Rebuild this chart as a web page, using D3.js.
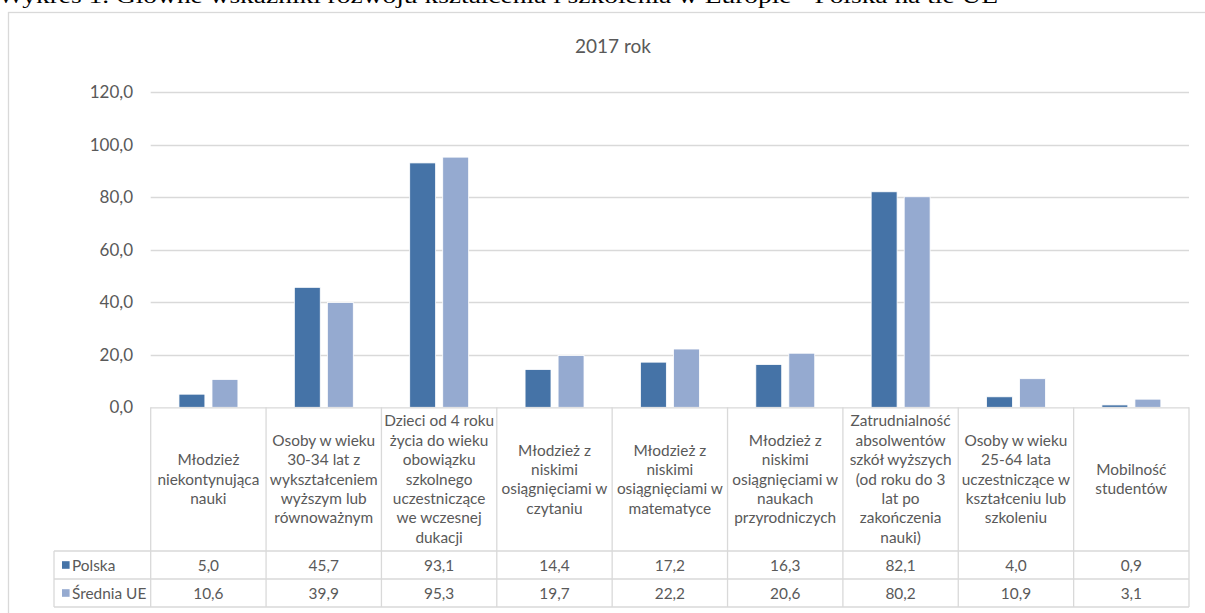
<!DOCTYPE html>
<html><head><meta charset="utf-8">
<script src="https://cdn.jsdelivr.net/npm/d3@7/dist/d3.min.js"></script>
<style>
html,body{margin:0;padding:0;background:#fff;overflow:hidden}
svg{display:block}
</style></head>
<body>
<script>
const pageTitle = "Wykres 1. Główne wskaźniki rozwoju kształcenia i szkolenia w Europie - Polska na tle UE";
const chartTitle = "2017 rok";
const categories = [
  ["Młodzież", "niekontynująca", "nauki"],
  ["Osoby w wieku", "30-34 lat z", "wykształceniem", "wyższym lub", "równoważnym"],
  ["Dzieci od 4 roku", "życia do wieku", "obowiązku", "szkolnego", "uczestniczące", "we wczesnej", "dukacji"],
  ["Młodzież z", "niskimi", "osiągnięciami w", "czytaniu"],
  ["Młodzież z", "niskimi", "osiągnięciami w", "matematyce"],
  ["Młodzież z", "niskimi", "osiągnięciami w", "naukach", "przyrodniczych"],
  ["Zatrudnialność", "absolwentów", "szkół wyższych", "(od roku  do 3", "lat po", "zakończenia", "nauki)"],
  ["Osoby w wieku", "25-64 lata", "uczestniczące  w", "kształceniu lub", "szkoleniu"],
  ["Mobilność", "studentów"]
];
const seriesNames = ["Polska", "Średnia UE"];
const polska = [5.0, 45.7, 93.1, 14.4, 17.2, 16.3, 82.1, 4.0, 0.9];
const sredniaUE = [10.6, 39.9, 95.3, 19.7, 22.2, 20.6, 80.2, 10.9, 3.1];
const yTicks = [0, 20, 40, 60, 80, 100, 120];
const colors = ["#4573A7", "#95AAD0"];

(function () {
const W = 1205, H = 613;
const svg = d3.select("body").append("svg").attr("width", W).attr("height", H);
const FONT = "Lato, 'Liberation Sans', sans-serif";
const grid = "#d9d9d9";
const txt = "#595959";
const tfs = 15.4;

const locale = d3.formatLocale({decimal: ",", thousands: " ", grouping: [3], currency: ["", " zł"]});
const fmt = locale.format(".1f");

// page heading (cut off at top, as in the source)
svg.append("text").attr("x", -2).attr("y", 3)
  .attr("font-family", "'Liberation Serif', serif").attr("font-size", 22)
  .attr("fill", "#000").attr("textLength", 1000).attr("lengthAdjust", "spacingAndGlyphs")
  .text(pageTitle);

// chart frame
svg.append("rect").attr("x", 8.5).attr("y", 12.5).attr("width", 1230).attr("height", 640)
  .attr("fill", "#fff").attr("stroke", grid).attr("stroke-width", 1.3);

const pLeft = 150.7, pRight = 1189, pTop = 92.3, base = 407.3;
const y = d3.scaleLinear().domain([0, 120]).range([base, pTop]);
const idx = categories.map((c, i) => i);
const x = d3.scaleBand().domain(idx).range([pLeft, pRight]).paddingInner(0).paddingOuter(0);
const bw = x.bandwidth();
const xs = d3.scaleBand().domain(seriesNames).range([0.245 * bw, 0.756 * bw]).paddingInner(0.215);

svg.append("text").attr("x", 613).attr("y", 53).attr("text-anchor", "middle")
  .attr("font-family", FONT).attr("font-size", 19).attr("fill", txt).text(chartTitle);

// gridlines
svg.append("g").selectAll("line").data(yTicks.filter(t => t > 0)).join("line")
  .attr("x1", pLeft).attr("x2", pRight).attr("y1", d => Math.round(y(d)) + 0.5).attr("y2", d => Math.round(y(d)) + 0.5)
  .attr("stroke", grid).attr("stroke-width", 1.3);

// y axis labels
const yAxis = d3.axisLeft(y).tickValues(yTicks).tickFormat(fmt).tickSize(0).tickPadding(0);
const ya = svg.append("g").attr("transform", `translate(${133},0)`).call(yAxis);
ya.select(".domain").remove();
ya.selectAll("text").attr("font-family", FONT).attr("font-size", 17).attr("fill", txt);

// bars
const data = [polska, sredniaUE];
data.forEach((vals, si) => {
  svg.append("g").selectAll("rect").data(vals).join("rect")
    .attr("x", (d, i) => x(i) + xs(seriesNames[si]))
    .attr("width", xs.bandwidth())
    .attr("y", d => y(d))
    .attr("height", d => base - y(d))
    .attr("fill", colors[si])
    .attr("stroke", "#fff").attr("stroke-width", 0.8);
});

// data table
const headBottom = 551, row1 = 579, row2 = 607, legLeft = 54;
const tg = svg.append("g").attr("stroke", grid).attr("stroke-width", 1.3).attr("fill", "none");
tg.append("line").attr("x1", pLeft).attr("x2", pRight).attr("y1", base + 0.5).attr("y2", base + 0.5);
[headBottom, row1, row2].forEach(yy => tg.append("line").attr("x1", legLeft).attr("x2", pRight).attr("y1", yy).attr("y2", yy));
idx.concat([idx.length]).forEach(i => {
  const xx = i < idx.length ? x(i) : pRight;
  tg.append("line").attr("x1", xx).attr("x2", xx).attr("y1", base).attr("y2", row2);
});
tg.append("line").attr("x1", legLeft).attr("x2", legLeft).attr("y1", headBottom).attr("y2", row2);

// header labels
const lh = 19.4;
categories.forEach((lines, i) => {
  const cx = x(i) + bw / 2;
  const cy = (base + headBottom) / 2;
  const t = svg.append("text").attr("text-anchor", "middle")
    .attr("font-family", FONT).attr("font-size", tfs).attr("fill", txt);
  lines.forEach((ln, k) => {
    t.append("tspan").attr("x", cx)
      .attr("y", cy + (k - (lines.length - 1) / 2) * lh + 5.5)
      .text(ln);
  });
});

// values rows
const rowsY = [(headBottom + row1) / 2, (row1 + row2) / 2];
data.forEach((vals, si) => {
  svg.append("g").selectAll("text").data(vals).join("text")
    .attr("x", (d, i) => x(i) + bw / 2).attr("y", rowsY[si] + 5.5)
    .attr("text-anchor", "middle").attr("font-family", FONT).attr("font-size", tfs).attr("fill", txt)
    .text(d => fmt(d));
  svg.append("rect").attr("x", 62).attr("y", rowsY[si] - 3.8).attr("width", 7.6).attr("height", 7.6).attr("fill", colors[si]);
  svg.append("text").attr("x", 72).attr("y", rowsY[si] + 5.5)
    .attr("font-family", FONT).attr("font-size", tfs).attr("fill", txt).text(seriesNames[si]);
});
})();
</script>
</body></html>
